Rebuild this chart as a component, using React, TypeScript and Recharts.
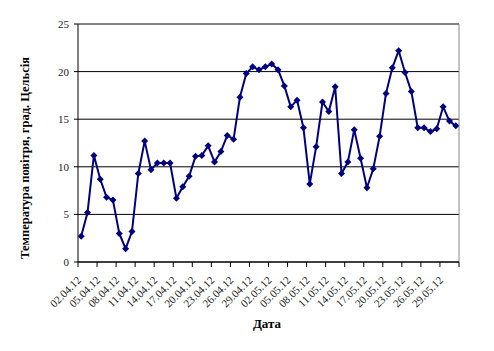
import React from "react"
import { LineChart, Line, XAxis, YAxis, CartesianGrid, ReferenceLine, Label } from "recharts"

// Дати спостережень (02.04.12 – 31.05.12)
const dates = [
  "02.04.12", "03.04.12", "04.04.12", "05.04.12", "06.04.12", "07.04.12", "08.04.12", "09.04.12",
  "10.04.12", "11.04.12", "12.04.12", "13.04.12", "14.04.12", "15.04.12", "16.04.12", "17.04.12",
  "18.04.12", "19.04.12", "20.04.12", "21.04.12", "22.04.12", "23.04.12", "24.04.12", "25.04.12",
  "26.04.12", "27.04.12", "28.04.12", "29.04.12", "30.04.12", "01.05.12", "02.05.12", "03.05.12",
  "04.05.12", "05.05.12", "06.05.12", "07.05.12", "08.05.12", "09.05.12", "10.05.12", "11.05.12",
  "12.05.12", "13.05.12", "14.05.12", "15.05.12", "16.05.12", "17.05.12", "18.05.12", "19.05.12",
  "20.05.12", "21.05.12", "22.05.12", "23.05.12", "24.05.12", "25.05.12", "26.05.12", "27.05.12",
  "28.05.12", "29.05.12", "30.05.12", "31.05.12",
]

// Температура повітря, °C
const temps = [
  2.7, 5.2, 11.2, 8.7, 6.8, 6.5, 3.0, 1.4, 3.2, 9.3, 12.7, 9.7, 10.4, 10.4, 10.4, 6.7,
  7.9, 9.0, 11.1, 11.2, 12.2, 10.5, 11.6, 13.3, 12.9, 17.3, 19.8, 20.5, 20.2, 20.5, 20.8, 20.2,
  18.5, 16.3, 17.0, 14.1, 8.2, 12.1, 16.8, 15.8, 18.4, 9.3, 10.5, 13.9, 10.9, 7.8, 9.8, 13.2,
  17.7, 20.4, 22.2, 19.9, 17.9, 14.1, 14.1, 13.7, 14.0, 16.3, 14.8, 14.3,
]

const yTicks = [0, 5, 10, 15, 20, 25]

// мітки осі X — кожні 3 дні, на межах категорій
const xTicks = [-0.5, 2.5, 5.5, 8.5, 11.5, 14.5, 17.5, 20.5, 23.5, 26.5, 29.5, 32.5, 35.5, 38.5, 41.5, 44.5, 47.5, 50.5, 53.5, 56.5, 59.5]

const data = dates.map((d, i) => ({ idx: i, date: d, temp: temps[i] }))

const FONT = "'Liberation Serif', 'Times New Roman', serif"

const DateTick = ({ x, y, payload }: any) => {
  const i = Math.round(payload.value + 0.5)
  const label = i < dates.length ? dates[i] : ""
  const tx = x + 1
  const ty = y + 9
  return (
    <text
      x={tx}
      y={ty}
      transform={`rotate(-45, ${tx}, ${ty})`}
      textAnchor="end"
      dominantBaseline="central"
      fontSize={11}
      fontFamily={FONT}
      fill="#222"
    >
      {label}
    </text>
  )
}

const Diamond = ({ cx, cy }: any) => {
  if (cx == null || cy == null) return null
  const r = 3.5
  return <path d={`M${cx},${cy - r}L${cx + r},${cy}L${cx},${cy + r}L${cx - r},${cy}Z`} fill="#000080" />
}

export default function App() {
  return (
    <div style={{ position: "absolute", left: 0, top: 0, background: "#fff" }}>
      <LineChart width={494} height={351} data={data} margin={{ top: 24, right: 35, left: 0, bottom: 0 }}>
        <CartesianGrid vertical={false} stroke="#000" strokeWidth={1} />
        <XAxis
          type="number"
          dataKey="idx"
          domain={[-0.5, 59.5]}
          ticks={xTicks}
          interval={0}
          height={89}
          tick={<DateTick />}
          tickSize={5}
          tickMargin={2}
          tickLine={{ stroke: "#000" }}
          axisLine={{ stroke: "#000" }}
        >
          <Label
            content={() => (
              <text x={267} y={328} textAnchor="middle" fontSize={13} fontWeight="bold" fontFamily={FONT} fill="#000">
                Дата
              </text>
            )}
          />
        </XAxis>
        <YAxis
          domain={[0, 25]}
          ticks={yTicks}
          width={78}
          tickSize={4}
          tickMargin={5}
          tick={{ fontSize: 11, fontFamily: FONT, fill: "#222" }}
          tickLine={{ stroke: "#000" }}
          axisLine={{ stroke: "#000" }}
        >
          <Label
            content={() => (
              <text
                x={25}
                y={158}
                transform="rotate(-90, 25, 158)"
                textAnchor="middle"
                dominantBaseline="central"
                fontSize={12.5}
                fontWeight="bold"
                fontFamily={FONT}
                fill="#000"
              >
                Температура повітря, град. Цельсія
              </text>
            )}
          />
        </YAxis>
        <ReferenceLine y={25} stroke="#888" strokeWidth={1} />
        <ReferenceLine x={59.5} stroke="#888" strokeWidth={1} />
        <Line
          type="linear"
          dataKey="temp"
          stroke="#000080"
          strokeWidth={2}
          dot={<Diamond />}
          activeDot={false}
          isAnimationActive={false}
        />
      </LineChart>
    </div>
  )
}
